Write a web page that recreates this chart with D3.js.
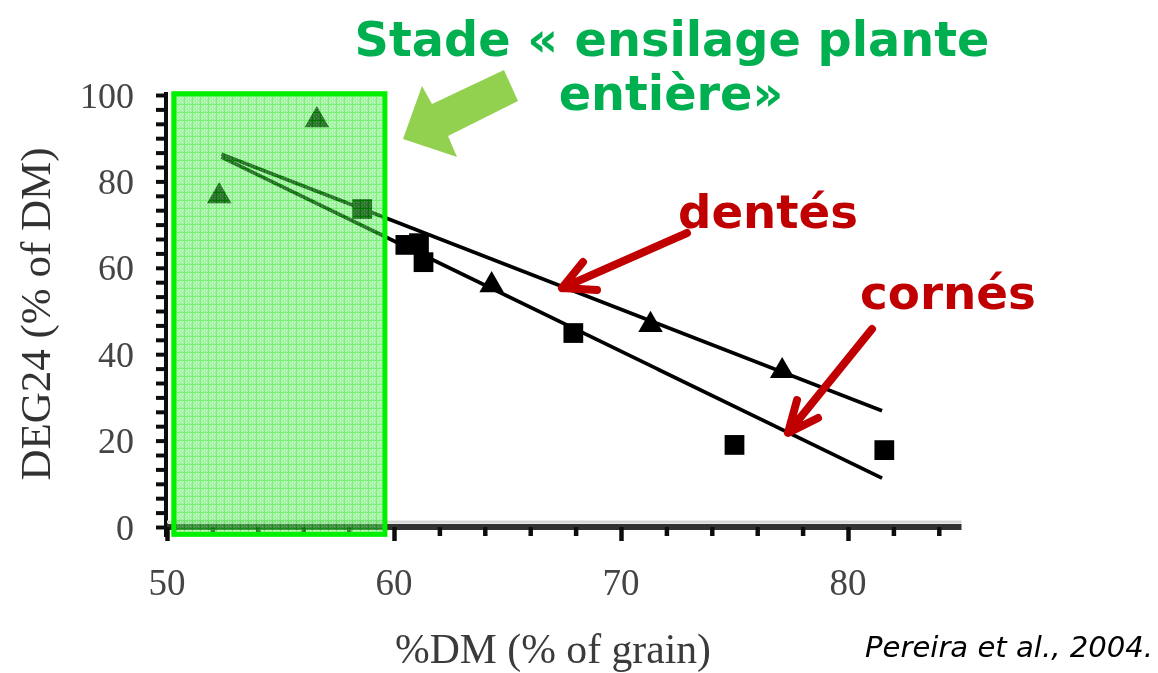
<!DOCTYPE html>
<html>
<head>
<meta charset="utf-8">
<script src="https://cdn.jsdelivr.net/npm/d3@7"></script>
<style>
  html, body { margin: 0; padding: 0; background: #ffffff; }
  svg { display: block; }
</style>
</head>
<body>
<script>
// Kernel degradability after 24 h vs. grain dry matter, dent vs. flint hybrids
const dentesX = [52.3, 56.6, 64.3, 71.3, 77.1];
const dentesY = [76.6, 94.2, 56.0, 46.8, 36.1];
const cornesX = [58.6, 60.5, 61.1, 61.3, 67.9, 75.0, 81.6];
const cornesY = [73.6, 65.3, 65.7, 61.3, 44.9, 19.0, 17.8];

// Fitted regression lines (end points)
const dentesFitX = [52.4, 81.5];
const dentesFitY = [86.3, 26.9];
const cornesFitX = [52.4, 81.5];
const cornesFitY = [85.6, 11.3];

const xTickLabels = [50, 60, 70, 80];
const yTickLabels = [0, 20, 40, 60, 80, 100];

// Whole-plant silage harvest window (grain DM range)
const stageX = [50.3, 59.6];
const stageY = [-1.7, 100.3];

const W = 1158, H = 673;
const svg = d3.select("body").append("svg").attr("width", W).attr("height", H);
const defs = svg.append("defs");

defs.append("filter").attr("id", "soft")
  .attr("x", "-5%").attr("y", "-5%").attr("width", "110%").attr("height", "110%")
  .append("feGaussianBlur").attr("stdDeviation", 0.6);

// Hatched/dithered green fill
const pat = defs.append("pattern").attr("id", "stagePattern")
  .attr("patternUnits", "userSpaceOnUse").attr("width", 8).attr("height", 8);
pat.append("rect").attr("width", 8).attr("height", 8).attr("fill", "rgb(80,232,80)");
[[2,2],[6,2],[4,4],[2,6],[6,6],[4,1],[1,4]].forEach(([a, b]) =>
  pat.append("rect").attr("x", a).attr("y", b).attr("width", 1).attr("height", 1).attr("fill", "rgb(200,255,200)"));
pat.append("rect").attr("x", 0).attr("y", 0).attr("width", 8).attr("height", 1).attr("fill", "rgb(0,230,0)");
pat.append("rect").attr("x", 0).attr("y", 0).attr("width", 1).attr("height", 8).attr("fill", "rgb(0,230,0)");

const x = d3.scaleLinear().domain([50, 85]).range([167, 961.5]);
const y = d3.scaleLinear().domain([0, 100]).range([527, 95]);

const chart = svg.append("g").attr("filter", "url(#soft)");

// Y axis
const yMinor = d3.range(0, 100.001, 20 / 6);
const yAxis = chart.append("g").attr("transform", `translate(${x(50) - 1},0)`)
  .call(d3.axisLeft(y).tickValues(yMinor).tickSize(10).tickFormat(""));
yAxis.select(".domain").attr("stroke", "#111").attr("stroke-width", 4)
  .attr("d", `M0,${y(100) - 3}V${y(0) + 10}`);
yAxis.selectAll(".tick line").attr("stroke", "#111").attr("stroke-width", 4);

chart.append("g").selectAll("text").data(yTickLabels).join("text")
  .attr("x", 134).attr("y", d => y(d)).attr("dy", "0.35em")
  .attr("text-anchor", "end")
  .attr("font-family", "Liberation Serif, Times New Roman, serif")
  .attr("font-size", 36).attr("fill", "#444")
  .text(d => d);

// X axis
const xMinor = d3.range(50, 85, 2);
chart.append("line").attr("x1", x(50)).attr("x2", x(85))
  .attr("y1", y(0) - 5).attr("y2", y(0) - 5)
  .attr("stroke", "#d6d6d6").attr("stroke-width", 3);
const xAxis = chart.append("g").attr("transform", `translate(0,${y(0)})`)
  .call(d3.axisBottom(x).tickValues(xMinor).tickSize(9).tickFormat(""));
xAxis.select(".domain").attr("stroke", "#333").attr("stroke-width", 6)
  .attr("d", `M${x(50)},0H${x(85)}`);
xAxis.selectAll(".tick line").attr("stroke", "#111").attr("stroke-width", 4.5)
  .attr("y2", d => xTickLabels.includes(d) ? 14 : 9);

chart.append("g").selectAll("text").data(xTickLabels).join("text")
  .attr("x", d => x(d)).attr("y", 595)
  .attr("text-anchor", "middle")
  .attr("font-family", "Liberation Serif, Times New Roman, serif")
  .attr("font-size", 37).attr("fill", "#444")
  .text(d => d);

// Axis titles
chart.append("text")
  .attr("transform", `translate(50,${(y(0) + y(100)) / 2 + 3}) rotate(-90)`)
  .attr("text-anchor", "middle")
  .attr("font-family", "Liberation Serif, Times New Roman, serif")
  .attr("font-size", 43).attr("fill", "#333")
  .text("DEG24 (% of DM)");

chart.append("text")
  .attr("x", 553).attr("y", 663)
  .attr("text-anchor", "middle")
  .attr("font-family", "Liberation Serif, Times New Roman, serif")
  .attr("font-size", 42).attr("fill", "#3a3a3a")
  .attr("textLength", 316).attr("lengthAdjust", "spacingAndGlyphs")
  .text("%DM (% of grain)");

// Regression lines
const fitLine = d3.line().x(d => x(d[0])).y(d => y(d[1]));
const fits = [
  d3.zip(dentesFitX, dentesFitY),
  d3.zip(cornesFitX, cornesFitY)
];
chart.append("g").selectAll("path").data(fits).join("path")
  .attr("d", fitLine).attr("fill", "none")
  .attr("stroke", "#000").attr("stroke-width", 3.7);

// Data points
const tri = d3.symbol(d3.symbolTriangle, 260);
const sq = d3.symbol(d3.symbolSquare, 390);
chart.append("g").selectAll("path").data(d3.zip(dentesX, dentesY)).join("path")
  .attr("transform", d => `translate(${x(d[0])},${y(d[1])})`)
  .attr("d", tri).attr("fill", "#000");
chart.append("g").selectAll("path").data(d3.zip(cornesX, cornesY)).join("path")
  .attr("transform", d => `translate(${x(d[0])},${y(d[1])})`)
  .attr("d", sq).attr("fill", "#000");

// Silage window highlight
const sx0 = x(stageX[0]), sx1 = x(stageX[1]);
const sy0 = y(stageY[1]), sy1 = y(stageY[0]);
svg.append("rect")
  .attr("x", sx0).attr("y", sy0).attr("width", sx1 - sx0).attr("height", sy1 - sy0)
  .attr("fill", "url(#stagePattern)").attr("fill-opacity", 0.52);
svg.append("rect")
  .attr("x", sx0).attr("y", sy0).attr("width", sx1 - sx0).attr("height", sy1 - sy0)
  .attr("fill", "none").attr("stroke", "#00f000").attr("stroke-width", 5);

// Big pointer to the window
const bigArrow = [[403,139],[422,86],[432,104],[504,70],[518,101],[448,136],[457,157]];
svg.append("polygon").attr("points", bigArrow.map(p => p.join(",")).join(" "))
  .attr("fill", "#92d050");

// Title annotation
function fitText(sel, target) {
  const w = sel.node().getComputedTextLength();
  const fs = parseFloat(sel.attr("font-size"));
  sel.attr("font-size", fs * target / w);
}
const title1 = svg.append("text").attr("x", 672).attr("y", 56)
  .attr("text-anchor", "middle").attr("font-family", "DejaVu Sans, Verdana, sans-serif")
  .attr("font-weight", "bold").attr("font-size", 47).attr("fill", "#00b050")
  .text("Stade « ensilage plante");
fitText(title1, 635);
const title2 = svg.append("text").attr("x", 671).attr("y", 110)
  .attr("text-anchor", "middle").attr("font-family", "DejaVu Sans, Verdana, sans-serif")
  .attr("font-weight", "bold").attr("font-size", 47).attr("fill", "#00b050")
  .text("entière»");
title2.attr("font-size", title1.attr("font-size"));

// Series labels with red pointers
const red = "#c00000";
const dLab = svg.append("text").attr("x", 678).attr("y", 228)
  .attr("font-family", "DejaVu Sans, Verdana, sans-serif")
  .attr("font-weight", "bold").attr("font-size", 46).attr("fill", red)
  .text("dentés");
fitText(dLab, 180);
const cLab = svg.append("text").attr("x", 860).attr("y", 309)
  .attr("font-family", "DejaVu Sans, Verdana, sans-serif")
  .attr("font-weight", "bold").attr("font-size", 46).attr("fill", red)
  .text("cornés");
fitText(cLab, 176);

// Arrow tips sit on the fitted lines (data coordinates)
const pointers = [
  { tip: [67.4, 55.3], tail: [687, 233], wings: [[583, 262], [597, 290]] },
  { tip: [77.36, 21.8], tail: [872, 329], wings: [[797, 400], [818, 418]] }
];
pointers.forEach(p => {
  const t = [x(p.tip[0]), y(p.tip[1])];
  svg.append("path")
    .attr("d", `M${p.tail[0]},${p.tail[1]}L${t[0]},${t[1]}M${p.wings[0][0]},${p.wings[0][1]}L${t[0]},${t[1]}L${p.wings[1][0]},${p.wings[1][1]}`)
    .attr("fill", "none").attr("stroke", red).attr("stroke-width", 8)
    .attr("stroke-linecap", "round").attr("stroke-linejoin", "round");
});

// Source
svg.append("text").attr("x", 1153).attr("y", 657)
  .attr("text-anchor", "end")
  .attr("font-family", "DejaVu Sans, Verdana, sans-serif")
  .attr("font-style", "italic").attr("font-size", 29).attr("fill", "#000")
  .attr("textLength", 288).attr("lengthAdjust", "spacingAndGlyphs")
  .text("Pereira et al., 2004.");
</script>
</body>
</html>
